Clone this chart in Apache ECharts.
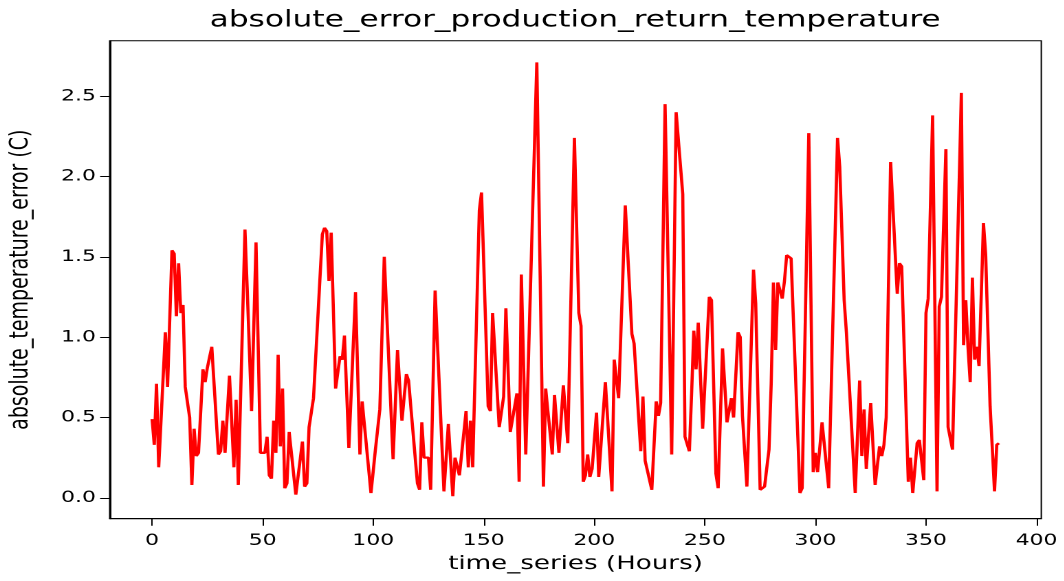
<!DOCTYPE html>
<html>
<head>
<meta charset="utf-8">
<script src="https://cdn.jsdelivr.net/npm/echarts@6/dist/echarts.min.js"></script>
<style>
  html, body { margin: 0; padding: 0; background: #fff; overflow: hidden; }
  /* the chart is laid out narrower and widened horizontally, giving the wide-glyph look of the figure */
  #chart { width: 773.818px; height: 581px; transform: scaleX(1.375); transform-origin: 0 0; }
</style>
</head>
<body>
<div id="chart"></div>
<script>
// hour of each turning point of the error curve
const hours = [
  0, 1, 2, 3, 4, 6, 7, 9, 10, 11, 12, 13, 14, 15, 17, 18, 19, 20, 21, 23,
  24, 25, 27, 28, 30, 31, 32, 33, 35, 37, 38, 39, 42, 43, 44, 45, 47, 49, 51, 52,
  53, 54, 55, 56, 57, 58, 59, 60, 61, 62, 65, 68, 69, 70, 71, 72, 73, 74, 77, 78,
  79, 80, 81, 83, 84, 85, 86, 87, 89, 92, 94, 95, 96, 99, 100, 101, 103, 105, 106, 109,
  111, 113, 115, 116, 120, 121, 122, 123, 125, 126, 128, 129, 132, 134, 136, 137, 139, 140, 142, 143,
  144, 145, 146, 148, 149, 152, 153, 154, 157, 158, 159, 160, 162, 163, 165, 166, 167, 168, 169, 174,
  177, 178, 179, 181, 182, 183, 184, 185, 186, 187, 188, 191, 193, 194, 195, 196, 197, 198, 199, 201,
  202, 203, 205, 208, 209, 210, 211, 214, 215, 217, 218, 221, 222, 223, 224, 226, 228, 229, 230, 232,
  235, 237, 240, 241, 243, 244, 245, 246, 247, 248, 249, 252, 253, 255, 256, 258, 259, 260, 261, 262,
  263, 264, 265, 266, 267, 268, 269, 272, 273, 275, 276, 277, 279, 280, 281, 282, 283, 284, 285, 286,
  287, 289, 290, 293, 294, 297, 299, 300, 301, 303, 304, 306, 310, 311, 313, 314, 315, 318, 320, 321,
  322, 323, 325, 327, 329, 330, 331, 332, 334, 337, 338, 339, 342, 343, 344, 346, 347, 349, 350, 351,
  353, 355, 356, 357, 359, 360, 362, 363, 366, 367, 368, 369, 370, 371, 372, 373, 374, 375, 376, 377,
  378, 379, 381, 382, 383
];

// absolute error (C) at those hours
const absError = [
  0.49, 0.33, 0.71, 0.19, 0.18, 1.03, 0.69, 1.54, 1.52, 1.13, 1.46, 1.15, 1.20, 0.69, 0.50, 0.08, 0.43, 0.26, 0.28, 0.80,
  0.72, 0.81, 0.94, 0.93, 0.27, 0.29, 0.48, 0.28, 0.76, 0.19, 0.61, 0.08, 1.67, 1.31, 1.32, 0.54, 1.59, 0.28, 0.28, 0.38,
  0.14, 0.12, 0.48, 0.28, 0.89, 0.32, 0.68, 0.06, 0.09, 0.41, 0.02, 0.35, 0.07, 0.09, 0.44, 0.44, 0.62, 0.63, 1.64, 1.68,
  1.66, 1.35, 1.65, 0.68, 0.68, 0.88, 0.86, 1.01, 0.31, 1.28, 0.27, 0.60, 0.59, 0.03, 0.04, 0.30, 0.55, 1.50, 1.49, 0.24,
  0.92, 0.48, 0.77, 0.73, 0.09, 0.05, 0.47, 0.25, 0.25, 0.05, 1.29, 1.29, 0.04, 0.46, 0.01, 0.25, 0.14, 0.15, 0.54, 0.19,
  0.48, 0.19, 0.19, 1.79, 1.90, 0.57, 0.54, 1.15, 0.44, 0.43, 0.63, 1.18, 0.41, 0.42, 0.65, 0.10, 1.39, 1.38, 0.27, 2.71,
  0.07, 0.68, 0.54, 0.27, 0.64, 0.63, 0.28, 0.29, 0.70, 0.70, 0.34, 2.24, 1.15, 1.07, 0.10, 0.14, 0.27, 0.13, 0.18, 0.53,
  0.13, 0.13, 0.72, 0.04, 0.86, 0.86, 0.62, 1.82, 1.82, 1.02, 0.96, 0.29, 0.63, 0.23, 0.23, 0.05, 0.60, 0.51, 0.59, 2.45,
  0.27, 2.40, 1.89, 0.38, 0.29, 0.65, 1.04, 0.80, 1.09, 1.09, 0.43, 1.25, 1.23, 0.15, 0.06, 0.93, 0.93, 0.47, 0.46, 0.62,
  0.50, 0.51, 1.03, 1.00, 0.51, 0.50, 0.07, 1.42, 1.21, 0.05, 0.04, 0.07, 0.30, 0.71, 1.34, 0.92, 1.34, 1.35, 1.24, 1.35,
  1.51, 1.49, 1.48, 0.03, 0.06, 2.27, 0.16, 0.28, 0.16, 0.47, 0.46, 0.06, 2.24, 2.06, 1.23, 1.03, 1.02, 0.03, 0.73, 0.26,
  0.55, 0.18, 0.59, 0.08, 0.32, 0.26, 0.33, 0.50, 2.09, 1.27, 1.46, 1.44, 0.10, 0.25, 0.03, 0.34, 0.36, 0.11, 1.15, 1.24,
  2.38, 0.04, 1.19, 1.25, 2.17, 0.44, 0.30, 0.29, 2.52, 0.95, 1.23, 0.94, 0.72, 1.37, 0.86, 0.94, 0.82, 0.82, 1.71, 1.51,
  1.50, 0.57, 0.04, 0.33, 0.34
];

const xTicks = [0, 50, 100, 150, 200, 250, 300, 350, 400];
const yTicks = [0, 0.5, 1.0, 1.5, 2.0, 2.5];

const FONT = 'DejaVu Sans';
const points = hours.map((h, i) => [h, absError[i]]);

const chart = echarts.init(document.getElementById('chart'), null, { renderer: 'canvas', devicePixelRatio: 2 });

chart.setOption({
  animation: false,
  backgroundColor: '#ffffff',
  title: {
    text: 'absolute_error_production_return_temperature',
    left: 152.5,
    top: 9,
    padding: 0,
    textStyle: { fontFamily: FONT, fontSize: 22.7, fontWeight: 'normal', color: '#000' }
  },
  grid: {
    left: 79.8, right: 16.7, top: 40.7, bottom: 62.3,
    containLabel: false,
    outerBoundsMode: 'none',
    show: true, borderColor: '#000', borderWidth: 1, backgroundColor: 'transparent'
  },
  xAxis: {
    type: 'value',
    min: -19.15, max: 402.15,
    name: 'time_series (Hours)',
    nameLocation: 'middle',
    nameGap: 36,
    nameTextStyle: { fontFamily: FONT, fontSize: 19, color: '#000' },
    axisLine: { show: true, onZero: false, lineStyle: { color: '#000', width: 1 } },
    axisTick: { show: true, length: 7, customValues: xTicks, lineStyle: { color: '#000', width: 1 } },
    axisLabel: { customValues: xTicks, fontFamily: FONT, fontSize: 16, color: '#000', margin: 14 },
    splitLine: { show: false }
  },
  yAxis: {
    type: 'value',
    min: -0.13, max: 2.845,
    name: 'absolute_temperature_error (C)',
    nameLocation: 'middle',
    nameGap: 55,
    nameTextStyle: { fontFamily: FONT, fontSize: 19, color: '#000' },
    axisLine: { show: true, onZero: false, lineStyle: { color: '#000', width: 1 } },
    axisTick: { show: true, length: 7, customValues: yTicks, lineStyle: { color: '#000', width: 1 } },
    axisLabel: {
      customValues: yTicks, fontFamily: FONT, fontSize: 16, color: '#000', margin: 10,
      formatter: v => Number(v).toFixed(1)
    },
    splitLine: { show: false }
  },
  series: [{
    type: 'line',
    data: points,
    showSymbol: false,
    symbol: 'none',
    lineStyle: { color: '#ff0000', width: 2.3 },
    itemStyle: { color: '#ff0000' },
    clip: true
  }]
});
</script>
</body>
</html>
